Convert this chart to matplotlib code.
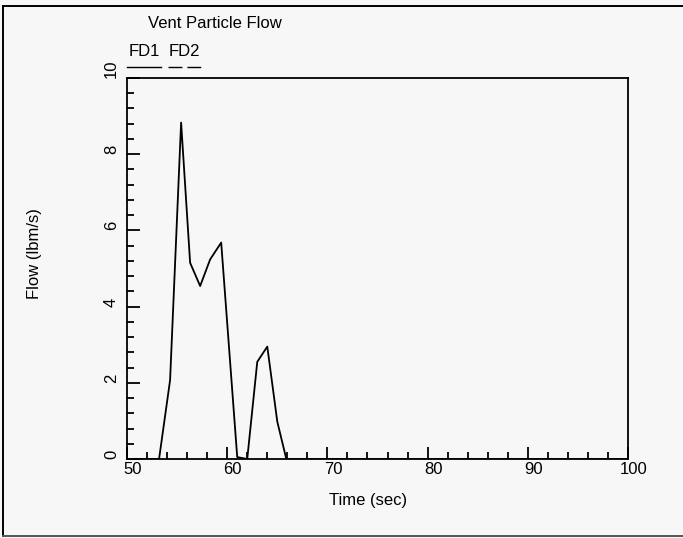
import numpy as np
import matplotlib
matplotlib.use('Agg')
import matplotlib.pyplot as plt
from matplotlib.lines import Line2D
from matplotlib.transforms import ScaledTranslation

plt.rcParams['font.family'] = ['Liberation Sans', 'DejaVu Sans']

# ---------------------
# data
# ---------------------
time_sec = [50.0, 53.2, 54.3, 55.4, 56.3, 57.3, 58.3, 59.4, 61.0, 62.0, 63.0, 64.0, 65.0, 65.9, 100.0]
flow_fd1 = [0.0, 0.0, 2.07, 8.83, 5.15, 4.54, 5.24, 5.68, 0.05, 0.0, 2.55, 2.95, 0.98, 0.0, 0.0]

x_major = [50, 60, 70, 80, 90, 100]
y_major = [0, 2, 4, 6, 8, 10]
series_names = ['FD1', 'FD2']

BG = '#f7f7f7'
FS = 12
LW = 1.3

fig = plt.figure(figsize=(6.83, 5.38), dpi=100, facecolor=BG)
W, H = 683, 538

# axes box in pixels: left 127, right 628, top 78, bottom 459
ax = fig.add_axes([127 / W, 1 - 459 / H, (628 - 127) / W, (459 - 78) / H], facecolor=BG)
ax.plot(time_sec, flow_fd1, color='black', lw=LW)

ax.set_xlim(50, 100)
ax.set_ylim(0, 10)
for s in ax.spines.values():
    s.set_linewidth(LW)

ax.set_xticks(x_major)
ax.set_xticks(np.arange(50, 100.1, 2), minor=True)
ax.set_yticks(y_major)
ax.set_yticks(np.arange(0, 10.01, 0.4), minor=True)
ax.tick_params(axis='both', which='both', direction='in', labelbottom=False, labelleft=False,
               top=False, right=False, width=LW)
ax.tick_params(axis='x', which='major', length=9)
ax.tick_params(axis='x', which='minor', length=5)
ax.tick_params(axis='y', which='major', length=9.5)
ax.tick_params(axis='y', which='minor', length=5)

# tick labels: x labels sit a bit right of their tick, y labels rotated with base on the tick
xoff = ScaledTranslation(5.5 / 100, -3 / 100, fig.dpi_scale_trans)
for v in x_major:
    ax.text(v, 0, f'{v}', transform=ax.get_xaxis_transform() + xoff,
            ha='center', va='top', fontsize=FS)
yoff = ScaledTranslation(-8 / 100, 0, fig.dpi_scale_trans)
for v in y_major:
    ax.text(0, v, f'{v}', transform=ax.get_yaxis_transform() + yoff,
            ha='right', va='bottom', rotation=90, fontsize=FS)

# axis titles and chart title
fig.text(368 / W, 1 - 501 / H, 'Time (sec)', ha='center', va='center', fontsize=FS)
fig.text(35 / W, 1 - 254 / H, 'Flow (lbm/s)', ha='center', va='center', rotation=90, fontsize=FS)
fig.text(148 / W, 1 - 23 / H, 'Vent Particle Flow', ha='left', va='center', fontsize=FS)

# legend above the plot: names over line samples
leg_x = [(127, 161), (168, 201)]
leg_style = ['-', (0, (10, 3.6))]
for name, (x0, x1), ls in zip(series_names, leg_x, leg_style):
    fig.text((x0 + x1) / 2 / W, 1 - 51 / H, name, ha='center', va='center', fontsize=FS)
    fig.add_artist(Line2D([x0 / W, x1 / W], [1 - 67 / H, 1 - 67 / H], transform=fig.transFigure,
                          color='black', lw=1.0, linestyle=ls))

# page border (left, top, bottom)
fig.add_artist(Line2D([3 / W, 3 / W], [1 - 6 / H, 1 - 536 / H], transform=fig.transFigure,
                      color='black', lw=1.4))
fig.add_artist(Line2D([3 / W, 1.0], [1 - 6 / H, 1 - 6 / H], transform=fig.transFigure,
                      color='black', lw=1.4))
fig.add_artist(Line2D([3 / W, 1.0], [1 - 536 / H, 1 - 536 / H], transform=fig.transFigure,
                      color='#555555', lw=1.4))

fig.savefig('out.png', dpi=100, facecolor=BG)
